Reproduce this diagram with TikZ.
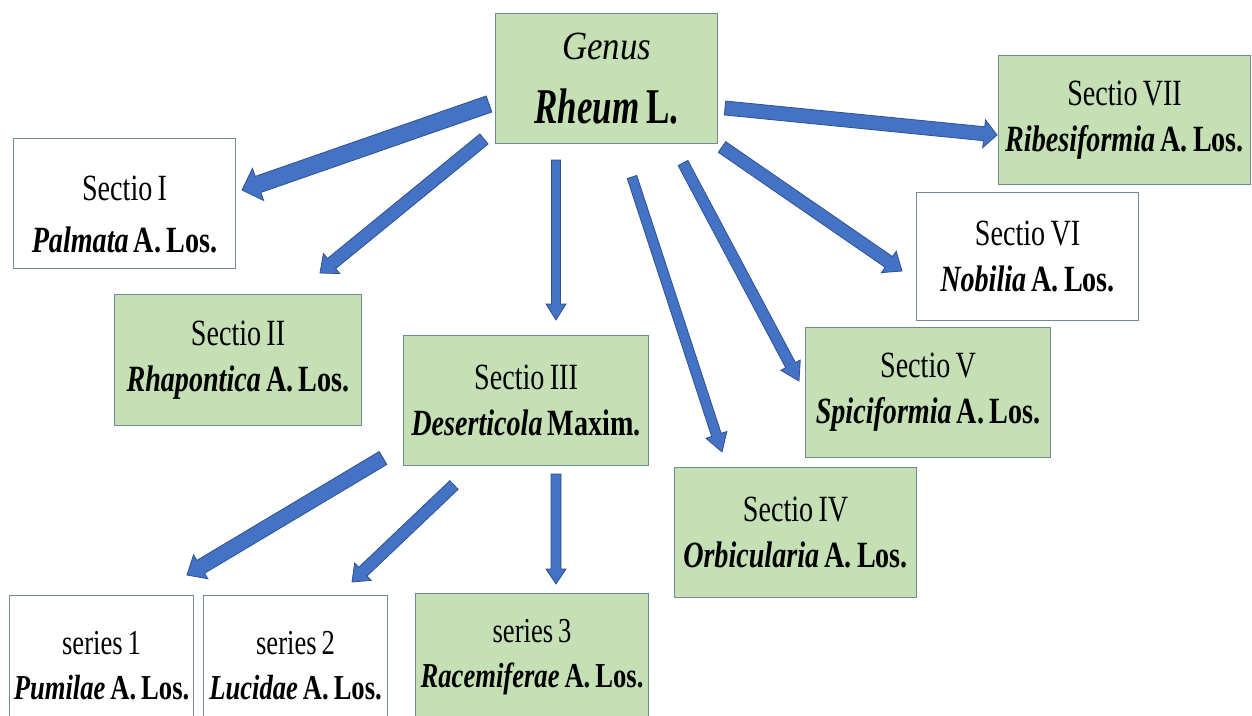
\documentclass[tikz,border=0pt]{standalone}
\usepackage{fontspec}
\setmainfont[FakeStretch=0.76, WordSpace=0.75]{Liberation Serif}
\newfontfamily\genusfont[FakeStretch=0.87]{Liberation Serif}
\newfontfamily\rheumfont[FakeStretch=0.7, WordSpace=0.8]{Liberation Serif}
\usetikzlibrary{calc}

\definecolor{boxgreen}{RGB}{197,224,180}
\definecolor{boxline}{RGB}{112,138,156}
\definecolor{arrowfill}{RGB}{68,114,196}
\definecolor{arrowline}{RGB}{47,82,143}

% bold italic taxon name
\newcommand\taxname[1]{\textbf{\textit{#1}}}

% block arrow: tail, tip, half shaft width, half head width, head length (pt)
\newcommand\blockarrow[5]{%
  \coordinate (ba-neck) at ($(#2)!#5pt!(#1)$);
  \filldraw[blockarrowstyle]
    ($(#1)!#3pt!90:(#2)$) -- ($(ba-neck)!#3pt!90:(#2)$) --
    ($(ba-neck)!#4pt!90:(#2)$) -- (#2) --
    ($(ba-neck)!#4pt!-90:(#2)$) -- ($(ba-neck)!#3pt!-90:(#2)$) --
    ($(#1)!#3pt!-90:(#2)$) -- cycle;}

\begin{document}
\begin{tikzpicture}[x=1pt, y={(0pt,-1pt)},
  taxon/.style={draw=boxline, line width=1.1pt, anchor=north west,
    inner sep=0pt, align=center, font=\fontsize{37}{46}\selectfont},
  greenbox/.style={taxon, fill=boxgreen},
  whitebox/.style={taxon, fill=white},
  seriesfont/.style={font=\fontsize{35}{45}\selectfont},
  blockarrowstyle/.style={fill=arrowfill, draw=arrowline, line width=0.8pt, line join=miter}]

\useasboundingbox (0,0) rectangle (1252,715);
\fill[white] (0,0) rectangle (1252,715);
\clip (0,0) rectangle (1252,715);

% genus
\node[greenbox, minimum width=222pt, minimum height=130pt,
      font=\fontsize{40}{64}\selectfont] (genus) at (495,13)
  {{\genusfont\textit{Genus}}\\{\rheumfont\fontsize{50}{64}\selectfont\taxname{Rheum} \textbf{L.}}};

% sections
\node[whitebox, minimum width=222pt, minimum height=130pt,
      font=\fontsize{37}{52}\selectfont] (s1) at (13,138)
  {\rule{0pt}{0pt}\\[-6pt]Sectio I\\\taxname{Palmata} \textbf{A. Los.}};
\node[greenbox, minimum width=247pt, minimum height=131pt] (s2) at (114,294)
  {Sectio II\\\taxname{Rhapontica} \textbf{A. Los.}};
\node[greenbox, minimum width=245pt, minimum height=130pt] (s3) at (403,335)
  {Sectio III\\\taxname{Deserticola} \textbf{Maxim.}};
\node[greenbox, minimum width=242pt, minimum height=130pt] (s4) at (674,467)
  {Sectio IV\\\taxname{Orbicularia} \textbf{A. Los.}};
\node[greenbox, minimum width=245pt, minimum height=130pt] (s5) at (805,327)
  {Sectio V\\\taxname{Spiciformia} \textbf{A. Los.}};
\node[whitebox, minimum width=222pt, minimum height=128pt] (s6) at (916,192)
  {Sectio VI\\\taxname{Nobilia} \textbf{A. Los.}};
\node[greenbox, minimum width=252pt, minimum height=129pt] (s7) at (998,55)
  {Sectio VII\\\taxname{Ribesiformia} \textbf{A. Los.}};

% series of Sectio III
\node[whitebox, seriesfont, minimum width=184pt, minimum height=140pt] (r1) at (9,595)
  {series 1\\\taxname{Pumilae} \textbf{A. Los.}};
\node[whitebox, seriesfont, minimum width=184pt, minimum height=140pt] (r2) at (203,595)
  {series 2\\\taxname{Lucidae} \textbf{A. Los.}};
\node[greenbox, seriesfont, minimum width=233pt, minimum height=128pt] (r3) at (415,593)
  {series 3\\\taxname{Racemiferae} \textbf{A. Los.}};

% arrow end points
\coordinate (t1) at (489,104);  \coordinate (h1) at (242,190);
\coordinate (t2) at (484,139);  \coordinate (h2) at (320,273);
\coordinate (t3) at (556,160);  \coordinate (h3) at (556,320);
\coordinate (t4) at (632,177);  \coordinate (h4) at (722,452);
\coordinate (t5) at (683,163);  \coordinate (h5) at (799,381);
\coordinate (t6) at (722,147);  \coordinate (h6) at (902,271);
\coordinate (t7) at (725,108);  \coordinate (h7) at (997,135);
\coordinate (t8) at (383,458);  \coordinate (h8) at (187,575);
\coordinate (t9) at (454,485);  \coordinate (h9) at (352,582);
\coordinate (t10) at (556,474); \coordinate (h10) at (556,584);

% genus to sections
\blockarrow{t1}{h1}{8.5}{17}{17}
\blockarrow{t2}{h2}{6.5}{13}{15}
\blockarrow{t3}{h3}{4.5}{10}{16}
\blockarrow{t4}{h4}{5}{11}{18}
\blockarrow{t5}{h5}{5.5}{11}{18}
\blockarrow{t6}{h6}{6.5}{13}{16}
\blockarrow{t7}{h7}{7}{14}{13}
% Sectio III to its series
\blockarrow{t8}{h8}{7.5}{14}{16}
\blockarrow{t9}{h9}{6}{12}{15}
\blockarrow{t10}{h10}{5}{10}{15}
\end{tikzpicture}
\end{document}
